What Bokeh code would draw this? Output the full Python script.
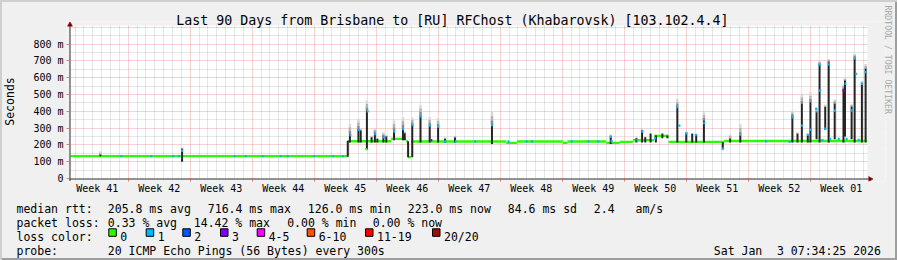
import math
from bokeh.plotting import figure
from bokeh.models import Range1d, FixedTicker, Grid, Title
from bokeh.layouts import column
from bokeh.core.properties import value
from bokeh.embed import file_html
from bokeh.resources import INLINE

# ---------------- data ----------------
title_text = "Last 90 Days from Brisbane to [RU] RFChost (Khabarovsk) [103.102.4.4]"
side_text = "RRDTOOL / TOBI OETIKER"
week_labels = ["Week 41", "Week 42", "Week 43", "Week 44", "Week 45", "Week 46", "Week 47",
               "Week 48", "Week 49", "Week 50", "Week 51", "Week 52", "Week 01"]
y_ticks = [0, 100, 200, 300, 400, 500, 600, 700, 800]
y_labels = ["0", "100 m", "200 m", "300 m", "400 m", "500 m", "600 m", "700 m", "800 m"]

# median rtt band (days since graph start, ms, loss level index)
seg_start = [0.00, 31.31, 36.20, 37.90, 38.10, 38.45, 49.20, 50.40, 55.60, 56.10, 60.50, 62.00, 63.50, 65.90, 67.50, 73.80]
seg_end = [31.31, 36.20, 37.90, 38.10, 38.45, 49.20, 50.40, 55.60, 56.10, 60.50, 62.00, 63.50, 65.90, 67.50, 73.80, 89.96]
seg_median = [133, 222, 236, 222, 127, 220, 212, 220, 212, 220, 212, 218, 228, 254, 218, 223]
seg_loss = [0, 0, 0, 0, 0, 0, 0, 0, 0, 0, 0, 0, 0, 0, 0, 0]

# smoke (ping spread) per spike: dark core lo..hi, light smoke hi..top (ms)
spk_day = [3.37, 12.60, 31.31, 31.55, 32.51, 32.77, 33.47, 34.00, 34.37, 34.65, 35.33, 35.66, 36.53, 37.54,
           37.74, 38.12, 38.59, 39.52, 40.56, 41.51, 42.30, 43.42, 47.59, 61.00, 63.90, 64.54, 64.90, 65.50,
           66.10, 66.83, 67.40, 68.52, 69.53, 70.20, 70.65, 71.52, 73.65, 74.48, 75.63, 81.51, 82.09, 82.58,
           83.25, 83.55, 84.24, 84.58, 85.22, 85.61, 86.29, 87.28, 87.45, 88.20, 88.54, 89.36, 89.78]
spk_lo = [133, 100, 130, 214, 214, 214, 173, 214, 214, 214, 214, 214, 228, 228, 228, 127, 127, 214, 214,
          214, 214, 214, 205, 205, 214, 214, 214, 214, 214, 240, 240, 214, 214, 214, 214, 214, 177, 214,
          214, 214, 214, 214, 214, 214, 233, 214, 290, 214, 233, 214, 250, 233, 214, 214, 214]
spk_hi = [140, 177, 225, 266, 296, 286, 405, 245, 272, 236, 252, 250, 286, 302, 270, 222, 320, 375, 320,
          310, 236, 244, 320, 252, 240, 286, 246, 266, 256, 266, 256, 428, 270, 266, 262, 345, 216, 236,
          256, 375, 266, 445, 260, 454, 395, 679, 425, 692, 445, 534, 583, 425, 722, 564, 653]
spk_top = [162, 185, 225, 325, 355, 300, 464, 255, 300, 240, 275, 260, 345, 365, 280, 222, 365, 439, 365,
           360, 245, 255, 400, 262, 245, 295, 250, 270, 262, 272, 262, 474, 280, 270, 268, 395, 216, 262,
           325, 405, 275, 504, 265, 514, 420, 702, 440, 712, 470, 560, 600, 445, 742, 580, 682]

# median markers coloured by loss
mk_day = [5.74, 9.11, 11.60, 12.26, 18.56, 19.80, 21.71, 23.74, 24.53, 27.50, 29.65, 30.75, 12.60,
          31.60, 32.55, 33.40, 33.55, 34.40, 35.35, 36.55, 37.56, 38.62, 39.55, 40.58, 40.75, 41.53,
          42.30, 43.50, 45.70, 49.45, 51.50, 52.10, 56.60, 58.50, 59.60, 47.60, 61.00,
          61.10, 64.00, 64.56, 66.00, 68.50, 68.76, 69.55, 70.60, 71.55, 73.65, 78.53, 81.20,
          81.53, 82.60, 83.25, 83.57, 84.20, 84.56, 84.62, 84.90, 85.22, 85.63, 85.78, 86.31, 86.74,
          87.28, 87.50, 87.64, 88.22, 88.54, 88.69, 88.99, 89.36, 89.80]
mk_median = [133, 133, 133, 133, 133, 133, 133, 133, 133, 133, 133, 133, 165,
             258, 290, 175, 400, 265, 245, 280, 295, 318, 370, 315, 228, 308,
             220, 220, 220, 220, 220, 220, 220, 220, 220, 318, 248,
             222, 228, 280, 240, 425, 315, 268, 258, 330, 177, 222, 218,
             365, 315, 260, 290, 415, 679, 524, 228, 296, 679, 235, 405, 235,
             524, 564, 235, 405, 716, 623, 230, 564, 633]
mk_loss = [1, 1, 1, 1, 1, 1, 1, 1, 1, 1, 1, 1, 1,
           1, 1, 0, 1, 1, 1, 1, 1, 1, 1, 1, 3, 1,
           1, 1, 1, 1, 1, 1, 1, 1, 1, 1, 1,
           1, 1, 1, 1, 1, 1, 1, 1, 1, 1, 1, 1,
           1, 1, 1, 1, 1, 1, 1, 1, 1, 1, 1, 1, 1,
           3, 1, 1, 1, 1, 1, 1, 1, 1]

loss_labels = ["0", "1", "2", "3", "4-5", "6-10", "11-19", "20/20"]
loss_colors = ["#26ff00", "#00b8ff", "#0059ff", "#7e00ff", "#ff00fe", "#ff5500", "#ff0000", "#a01000"]

stat_x = [16, 107.3, 207.3, 307.3, 407.3, 507.3, 593.3, 635,
          16, 107.3, 193.3, 286.7, 372.3,
          16,
          16, 107.3, 713.3, 776.5]
stat_row = [0, 0, 0, 0, 0, 0, 0, 0,
            1, 1, 1, 1, 1,
            2,
            3, 3, 3, 3]
stat_text = ["median rtt:", "205.8 ms avg", "716.4 ms max", "126.0 ms min", "223.0 ms now", "84.6 ms sd", "2.4", "am/s",
             "packet loss:", "0.33 % avg", "14.42 % max", "0.00 % min", "0.00 % now",
             "loss color:",
             "probe:", "20 ICMP Echo Pings (56 Bytes) every 300s", "Sat Jan", "3 07:34:25 2026"]

# ---------------- style / geometry ----------------
FONT = "DejaVu Sans Mono"
BACK = "#f0f0f0"
MGRID = "#de5050"
GRIDC = "#8f8f8f"
AXISC = "#303030"
ARROWC = "#7f0000"
DAYS = 90
WEEK0 = -0.475          # start of week 41 relative to graph start (days)
PXD = DAYS / 800.0      # days per pixel
PXMS = 0.168            # pixels per ms
X0PX, Y0PX = 67, 178    # canvas pixel of (day 0, 0 ms)
FL, FR, FT, FB = 63, 885, 21, 181  # frame edges in canvas pixels


def px2x(px):
    return (px - X0PX) * PXD


def py2y(py):
    return (Y0PX - py) / PXMS


week_bounds = [round(WEEK0 + 7 * k, 3) for k in range(1, 13)]
week_mid = [round(WEEK0 + 3.5 + 7 * k, 3) for k in range(13)]
day_lines = [round(WEEK0 + d, 3) for d in range(1, 91) if d % 7 != 0 and WEEK0 + d < DAYS]

p = figure(width=897, height=196, x_range=Range1d(px2x(FL), px2x(FR)), y_range=Range1d(py2y(FB), py2y(FT)),
           output_backend="svg", toolbar_location=None, title=title_text,
           min_border_left=FL, min_border_right=897 - FR, min_border_top=FT, min_border_bottom=196 - FB,
           background_fill_color="white", border_fill_color=None, outline_line_color=None)
try:
    p.frame_align = False
except Exception:
    pass

p.title.align = "left"
p.title.offset = 172.7 - FL
p.title.vertical_align = "bottom"
p.title.standoff = -12
p.title.text_font = FONT
p.title.text_font_size = "13.3px"
p.title.text_font_style = "normal"
p.title.text_color = "black"

p.add_layout(Title(text=side_text, align="left", offset=5 - FT, vertical_align="bottom", standoff=-6,
                   text_font=FONT, text_font_size="8.2px", text_font_style="normal",
                   text_color="#a8a8a8"), "right")

p.grid.visible = False
p.add_layout(Grid(dimension=0, ticker=FixedTicker(ticks=week_bounds, minor_ticks=day_lines),
                  grid_line_color=MGRID, grid_line_alpha=0.5, grid_line_dash="1 1",
                  minor_grid_line_color=GRIDC, minor_grid_line_alpha=0.45, minor_grid_line_dash="1 1"), "center")
p.add_layout(Grid(dimension=1, ticker=FixedTicker(ticks=list(range(100, 1000, 100)),
                                                  minor_ticks=list(range(50, 900, 100))),
                  grid_line_color=MGRID, grid_line_alpha=0.5, grid_line_dash="1 1",
                  minor_grid_line_color=GRIDC, minor_grid_line_alpha=0.45, minor_grid_line_dash="1 1"), "center")

xa = p.xaxis[0]
xa.ticker = FixedTicker(ticks=week_mid, minor_ticks=week_bounds)
xa.major_label_overrides = dict(zip(week_mid, week_labels))
xa.major_tick_out = 0
xa.major_tick_in = 0
xa.minor_tick_out = 0
xa.minor_tick_in = 3
xa.minor_tick_line_color = MGRID
xa.minor_tick_line_alpha = 0.7
xa.major_label_standoff = 1
xa.axis_line_color = None
xa.major_label_text_font = FONT
xa.major_label_text_font_size = "10px"
xa.major_label_text_color = "black"

ya = p.yaxis[0]
ya.ticker = FixedTicker(ticks=y_ticks, minor_ticks=[])
ya.major_label_overrides = dict(zip(y_ticks, y_labels))
ya.major_tick_out = 0
ya.major_tick_in = 3
ya.minor_tick_out = 0
ya.minor_tick_in = 0
ya.major_tick_line_color = MGRID
ya.major_tick_line_alpha = 0.7
ya.major_label_standoff = 3
ya.axis_line_color = None
ya.major_label_text_font = FONT
ya.major_label_text_font_size = "10px"
ya.major_label_text_color = "black"
ya.axis_label = "Seconds"
ya.axis_label_standoff = 13
ya.axis_label_text_font = FONT
ya.axis_label_text_font_size = "11.5px"
ya.axis_label_text_font_style = "normal"
ya.axis_label_text_color = "black"

# canvas-coloured masks around the white graph area (cover grid overhang)
gx0, gx1, gy0, gy1 = 0, DAYS, 0, py2y(25)
fx0, fx1, fy0, fy1 = px2x(FL), px2x(FR), py2y(FB), py2y(FT)
p.quad(left=[fx0, fx0, fx0, gx1], right=[fx1, fx1, gx0, fx1],
       bottom=[gy1, fy0, fy0, fy0], top=[fy1, gy0, fy1, fy1],
       fill_color=BACK, line_color=None)

# light smoke, three shades above the dark core
shades = ["#8a8a8a", "#b2b2b2", "#d8d8d8"]
for i, c in enumerate(shades):
    y0 = [h + (t - h) * i / 3 for h, t in zip(spk_hi, spk_top)]
    y1 = [h + (t - h) * (i + 1) / 3 for h, t in zip(spk_hi, spk_top)]
    p.segment(x0=spk_day, x1=spk_day, y0=y0, y1=y1, line_width=2.5, line_color=c, line_cap="butt")

# median band coloured by loss
p.segment(x0=seg_start, x1=seg_end, y0=seg_median, y1=seg_median, line_width=2.4,
          line_color=[loss_colors[l] for l in seg_loss], line_cap="butt")

# dark smoke core
p.segment(x0=spk_day, x1=spk_day, y0=spk_lo, y1=spk_hi, line_width=2, line_color="#242424", line_cap="butt")

# median markers
p.rect(x=mk_day, y=mk_median, width=2, height=2.4, width_units="screen", height_units="screen",
       fill_color=[loss_colors[l] for l in mk_loss], line_color=None)

# axis lines and arrow heads
p.segment(x0=[px2x(66), px2x(66.5)], x1=[px2x(868), px2x(66.5)],
          y0=[py2y(178.5), py2y(180.5)], y1=[py2y(178.5), py2y(25)],
          line_color=AXISC, line_width=1)
p.scatter(x=[px2x(869.6), px2x(66.5)], y=[py2y(178.5), py2y(24.2)], marker="triangle", size=5,
          angle=[-math.pi / 2, 0], fill_color=ARROWC, line_color=ARROWC, line_width=0.5)

# ---------------- legend panel ----------------
p2 = figure(width=897, height=64, x_range=Range1d(0, 897), y_range=Range1d(64, 0),
            x_axis_type=None, y_axis_type=None, output_backend="svg", toolbar_location=None,
            title=None, min_border=0, background_fill_color=None, border_fill_color=None,
            outline_line_color=None)
try:
    p2.frame_align = False
except Exception:
    pass
row_base = [12, 26, 40, 54]
p2.text(x=stat_x, y=[row_base[r] for r in stat_row], text=stat_text,
        text_font=value(FONT), text_font_size=value("11.5px"), text_baseline="alphabetic",
        text_align="left", text_color="black")
sq_left = [108.3, 145.7, 182.3, 220.0, 256.7, 306.7, 365.0, 432.0]
p2.quad(left=sq_left, right=[s + 7.5 for s in sq_left], top=[32.3] * 8, bottom=[39.8] * 8,
        fill_color=loss_colors, line_color="black", line_width=1)
p2.text(x=[s + 11.5 for s in sq_left], y=[40] * 8, text=loss_labels,
        text_font=value(FONT), text_font_size=value("11.5px"), text_baseline="alphabetic",
        text_align="left", text_color="black")

layout = column(p, p2, styles={"background-color": BACK,
                               "box-shadow": "inset 2px 2px 0 #cfcfcf, inset -2px -2px 0 #9e9e9e"})
open("out.html", "w").write(file_html(layout, INLINE))
